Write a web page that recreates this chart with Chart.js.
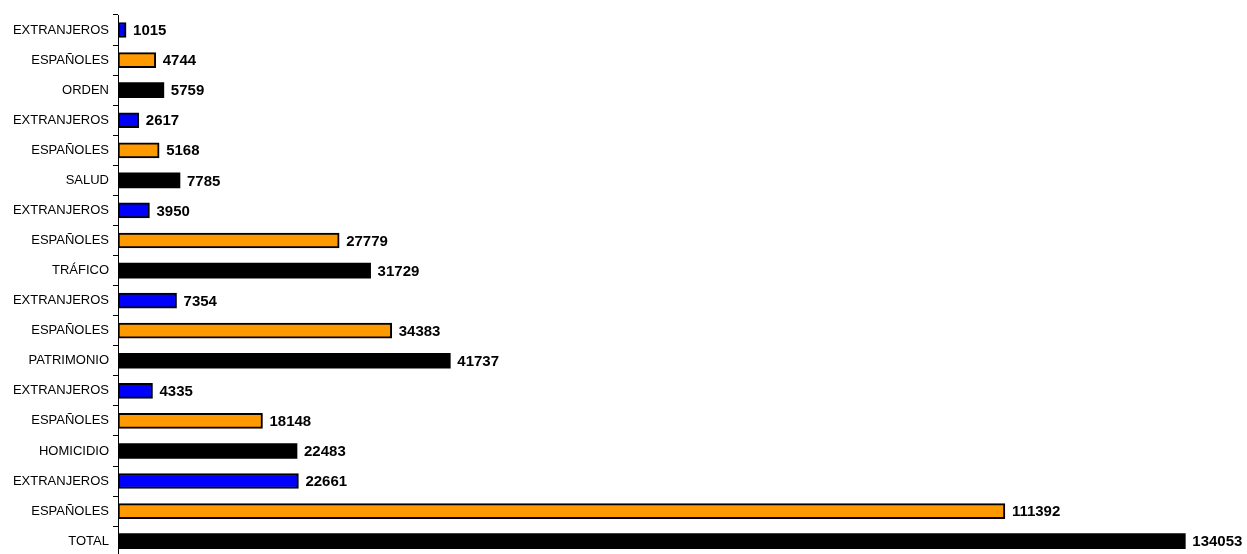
<!DOCTYPE html>
<html>
<head>
<meta charset="utf-8">
<script src="https://cdn.jsdelivr.net/npm/chart.js@4/dist/chart.umd.min.js"></script>
<style>
html,body{margin:0;padding:0;background:#fff;overflow:hidden;}
#outer{position:relative;width:1247px;height:554px;overflow:hidden;}
#wrap{position:relative;width:1247px;height:568px;}
</style>
</head>
<body>
<div id="outer"><div id="wrap"><canvas id="c"></canvas></div></div>
<script>
const categories = ["EXTRANJEROS","ESPAÑOLES","ORDEN","EXTRANJEROS","ESPAÑOLES","SALUD","EXTRANJEROS","ESPAÑOLES","TRÁFICO","EXTRANJEROS","ESPAÑOLES","PATRIMONIO","EXTRANJEROS","ESPAÑOLES","HOMICIDIO","EXTRANJEROS","ESPAÑOLES","TOTAL"];
const values = [1015,4744,5759,2617,5168,7785,3950,27779,31729,7354,34383,41737,4335,18148,22483,22661,111392,134053];

function colorFor(name){
  if(name==="EXTRANJEROS") return "#0000FF";
  if(name==="ESPAÑOLES") return "#FF9900";
  return "#000000";
}
const bg = categories.map(colorFor);

const valueLabels = {
  id:'valueLabels',
  afterDatasetsDraw(chart){
    const ctx = chart.ctx;
    const meta = chart.getDatasetMeta(0);
    const xs = chart.scales.x;
    ctx.save();
    ctx.font = 'bold 15px "Liberation Sans", Arial, sans-serif';
    ctx.fillStyle = '#000';
    ctx.textBaseline = 'middle';
    ctx.textAlign = 'left';
    meta.data.forEach((bar,i)=>{
      const x = xs.getPixelForValue(values[i]) + 7;
      ctx.fillText(String(values[i]), x, bar.y + 1);
    });
    ctx.restore();
  }
};

new Chart(document.getElementById('c'), {
  type:'bar',
  data:{
    labels: categories,
    datasets:[{
      data: values,
      backgroundColor: bg,
      borderColor: '#000',
      borderWidth: categories.map(n => colorFor(n)==="#000000" ? 0 : 2),
      borderSkipped: false,
      barThickness: 15
    }]
  },
  options:{
    indexAxis:'y',
    responsive:true,
    maintainAspectRatio:false,
    animation:false,
    layout:{padding:{top:15,right:0,bottom:0,left:0}},
    plugins:{legend:{display:false},tooltip:{enabled:false}},
    scales:{
      x:{display:false,min:0,max:141800},
      y:{
        afterFit(s){ s.width = 118; },
        border:{display:true,color:'#000',width:1},
        grid:{display:true,drawOnChartArea:false,tickLength:5,color:'#000',offset:true},
        ticks:{color:'#000',font:{family:'"Liberation Sans", Arial, sans-serif',size:13},padding:4,autoSkip:false}
      }
    }
  },
  plugins:[valueLabels]
});
</script>
</body>
</html>
